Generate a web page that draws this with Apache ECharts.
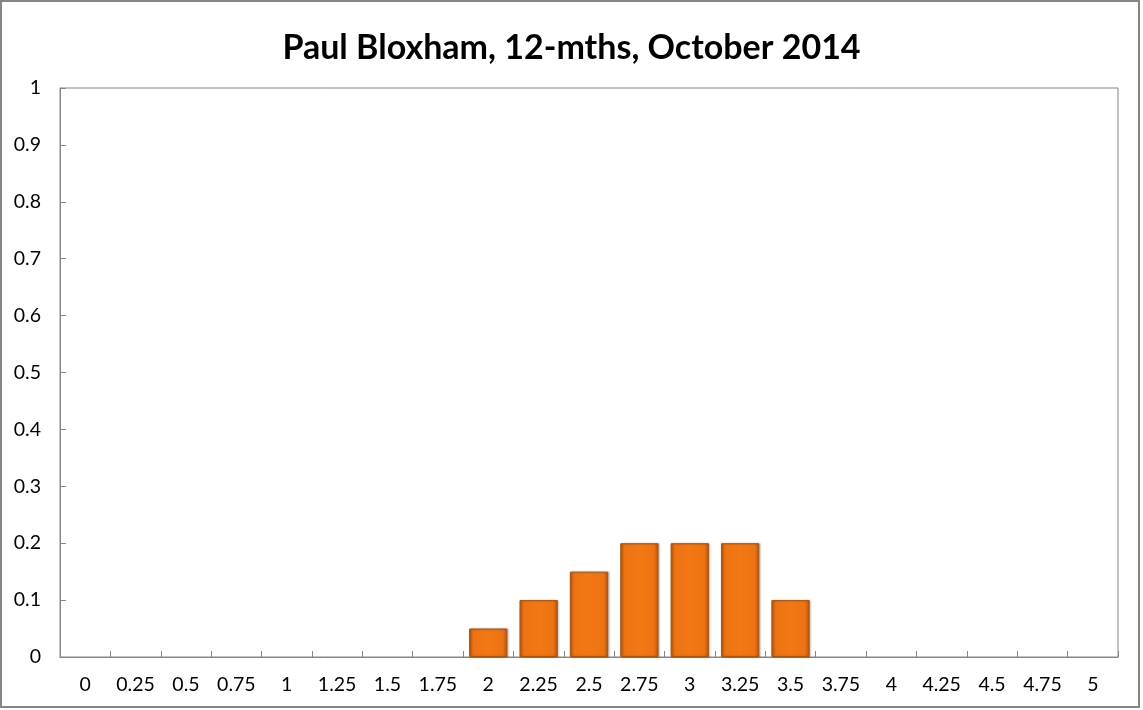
<!DOCTYPE html>
<html><head><meta charset="utf-8">
<script src="https://cdn.jsdelivr.net/npm/echarts@6/dist/echarts.min.js"></script>
<style>html,body{margin:0;padding:0;background:#fff}#c{width:1143px;height:710px}</style>
</head><body><div id="c"></div>
<script>
const categories = ['0','0.25','0.5','0.75','1','1.25','1.5','1.75','2','2.25','2.5','2.75','3','3.25','3.5','3.75','4','4.25','4.5','4.75','5'];
const values = [0,0,0,0,0,0,0,0,0.05,0.1,0.15,0.2,0.2,0.2,0.1,0,0,0,0,0,0];
const titleText = 'Paul Bloxham, 12-mths, October 2014';
const FONT = 'Lato, "Open Sans", sans-serif';
const chart = echarts.init(document.getElementById('c'), null, {renderer:'canvas'});
const seriesData = values.map(v => v === 0 ? {value:v, itemStyle:{borderWidth:0, shadowBlur:0, opacity:0}} : v);
chart.setOption({
  animation:false,
  backgroundColor:'#fff',
  title:{text:titleText,left:'center',top:26,textStyle:{fontFamily:FONT,fontWeight:'bold',fontSize:34,color:'#000'}},
  graphic:[{type:'rect',shape:{x:1,y:1,width:1138,height:706},style:{fill:'none',stroke:'#868686',lineWidth:2},silent:true}],
  grid:{left:60,right:25,top:88,bottom:53,show:true,borderColor:'#868686',borderWidth:1},
  xAxis:{type:'category',data:categories,boundaryGap:true,
    axisLine:{lineStyle:{color:'#868686',width:1}},
    axisTick:{show:true,inside:true,length:6,interval:0,lineStyle:{color:'#868686'}},
    axisLabel:{interval:0,fontFamily:FONT,fontSize:19.5,color:'#000',margin:18},
    splitLine:{show:false}},
  yAxis:{type:'value',min:0,max:1,interval:0.1,
    axisLine:{show:true,lineStyle:{color:'#868686',width:1}},
    axisTick:{show:true,inside:true,length:6,lineStyle:{color:'#868686'}},
    axisLabel:{fontFamily:FONT,fontSize:19.5,color:'#000',margin:19,formatter:v=>String(Math.round(v*10)/10)},
    splitLine:{show:false}},
  series:[{type:'bar',data:seriesData,barWidth:'76%',
    itemStyle:{
      color:new echarts.graphic.LinearGradient(0,0,1,0,[
        {offset:0,color:'#C85E0A'},{offset:0.12,color:'#EE7312'},{offset:0.5,color:'#F27814'},{offset:0.88,color:'#EE7312'},{offset:1,color:'#B85508'}]),
      borderColor:'#A9530E',borderWidth:1,
      shadowColor:'rgba(0,0,0,0.25)',shadowBlur:2,shadowOffsetX:1,shadowOffsetY:0
    }}]
});
</script></body></html>
